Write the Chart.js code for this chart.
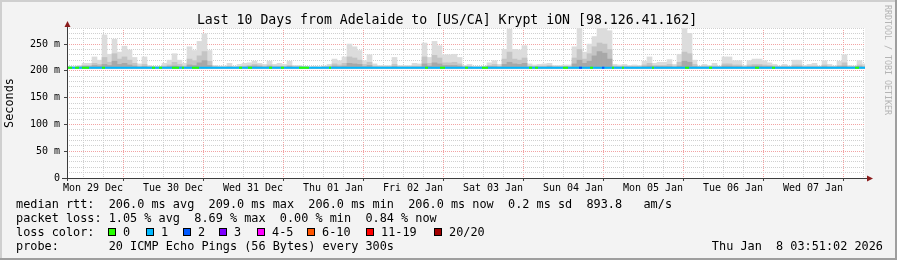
<!DOCTYPE html>
<html>
<head>
<meta charset="utf-8">
<script src="https://cdn.jsdelivr.net/npm/chart.js@4/dist/chart.umd.min.js"></script>
<style>
html, body { margin: 0; padding: 0; background: #f3f3f3; }
canvas { display: block; }
</style>
</head>
<body>
<canvas id="graficoPing" width="897" height="260"></canvas>
<script>
const titulo = 'Last 10 Days from Adelaide to [US/CA] Krypt iON [98.126.41.162]';
const dayLabels = ['Mon 29 Dec', 'Tue 30 Dec', 'Wed 31 Dec', 'Thu 01 Jan', 'Fri 02 Jan',
    'Sat 03 Jan', 'Sun 04 Jan', 'Mon 05 Jan', 'Tue 06 Jan', 'Wed 07 Jan'];
const yTickValues = [0, 50, 100, 150, 200, 250];
const yTickTexts = ['0', '50 m', '100 m', '150 m', '200 m', '250 m'];

// hours counted from Mon 29 Dec 00:00
const firstHour = 4.2;
const lastHour = 243.6;
const firstSlotHour = 4.95;
const slotStep = 1.5;

// smoke (ms), one value per 1.5 h slot
const smokeTop = [
    207, 207, 210, 214, 214, 226, 220, 267, 231, 259, 235, 246, 239, 225, 213, 226, 210, 208, 208, 214,
    220, 232, 220, 214, 245, 238, 255, 269, 238, 210, 209, 209, 214, 208, 212, 214, 215, 218, 214, 212,
    218, 212, 214, 212, 218, 210, 210, 208, 207, 208, 207, 209, 212, 222, 219, 226, 250, 245, 238, 219,
    230, 213, 210, 210, 210, 225, 210, 210, 210, 214, 213, 252, 225, 255, 247, 230, 230, 231, 225, 210,
    212, 208, 208, 208, 215, 219, 212, 240, 278, 240, 239, 247, 213, 211, 212, 213, 214, 210, 210, 211,
    211, 245, 279, 235, 250, 264, 279, 279, 275, 212, 211, 212, 210, 211, 210, 218, 226, 214, 216, 216,
    221, 212, 231, 279, 270, 220, 209, 212, 210, 214, 209, 226, 226, 219, 219, 210, 219, 222, 222, 219,
    215, 212, 209, 212, 209, 220, 220, 210, 212, 214, 209, 219, 212, 209, 218, 230, 210, 209, 219, 213
];
const smokeMid = [
    207, 207, 208, 210, 210, 214, 212, 225, 216, 232, 222, 226, 220, 214, 209, 212, 208, 207, 207, 209,
    211, 216, 212, 209, 222, 219, 228, 236, 218, 208, 207, 207, 209, 207, 208, 209, 210, 212, 211, 209,
    211, 209, 209, 208, 210, 208, 208, 207, 207, 207, 207, 208, 209, 213, 211, 214, 226, 224, 220, 212,
    216, 209, 208, 208, 208, 212, 208, 208, 208, 209, 209, 226, 214, 229, 224, 215, 215, 216, 213, 208,
    209, 207, 207, 207, 210, 212, 209, 222, 235, 222, 220, 224, 209, 208, 209, 209, 210, 208, 208, 208,
    208, 224, 240, 222, 232, 245, 252, 250, 240, 209, 208, 209, 208, 208, 208, 211, 214, 210, 210, 210,
    212, 209, 216, 235, 232, 212, 208, 209, 208, 209, 208, 213, 213, 211, 211, 208, 211, 212, 212, 211,
    210, 209, 208, 209, 208, 211, 211, 208, 209, 209, 208, 211, 209, 208, 210, 215, 208, 208, 211, 209
];
const smokeLow = [
    207, 207, 207, 208, 208, 210, 209, 212, 210, 218, 212, 214, 211, 209, 207, 208, 207, 207, 207, 207,
    208, 209, 208, 207, 211, 210, 215, 219, 210, 207, 207, 207, 207, 207, 207, 207, 208, 209, 208, 207,
    208, 207, 207, 207, 208, 207, 207, 207, 207, 207, 207, 207, 207, 209, 208, 209, 214, 213, 212, 208,
    210, 207, 207, 207, 207, 208, 207, 207, 207, 207, 207, 213, 209, 215, 213, 210, 210, 210, 209, 207,
    207, 207, 207, 207, 208, 208, 207, 212, 216, 213, 212, 214, 207, 207, 207, 207, 208, 207, 207, 207,
    207, 213, 220, 214, 218, 228, 236, 233, 222, 207, 207, 207, 207, 207, 207, 208, 209, 208, 208, 208,
    208, 207, 209, 218, 216, 208, 207, 207, 207, 207, 207, 209, 209, 208, 208, 207, 208, 209, 209, 208,
    208, 207, 207, 207, 207, 208, 208, 207, 207, 207, 207, 208, 207, 207, 208, 209, 207, 207, 208, 207
];
const smokeBase = 205;

// median rtt (ms) and loss spans [fromHour, toHour]
const medianLine = [[4.2, 206], [243.6, 206]];
const lossZeroSpans = [
    [4.2, 5.7], [6.6, 7.8], [8.7, 10.8], [14.7, 15.6], [29.7, 30.6], [31.8, 32.7], [35.7, 37.8],
    [38.7, 39.3], [41.7, 43.8], [55.8, 56.7], [58.5, 59.7], [64.8, 65.7], [68.4, 69.3], [73.8, 76.8],
    [82.8, 83.4], [111.6, 112.5], [116.1, 117.6], [123.6, 124.5], [128.7, 130.5], [142.8, 143.7],
    [144.6, 145.5], [153.0, 154.5], [161.1, 162.0], [167.7, 168.3], [170.7, 171.3], [179.7, 180.3],
    [189.6, 190.8], [196.8, 197.7], [210.6, 211.8], [215.7, 216.6], [240.6, 241.8]
];
const lossTwoSpans = [[157.8, 158.7], [164.7, 165.4]];

const medianStats = ['206.0', '209.0', '206.0', '206.0', '0.2', '893.8'];
const lossStats = ['1.05', '8.69', '0.00', '0.84'];
const lossLevels = ['0', '1', '2', '3', '4-5', '6-10', '11-19', '20/20'];
const lossColors = ['#26ff00', '#00b8ff', '#0059ff', '#7e00ff', '#ff00ff', '#ff5500', '#ff0000', '#a10000'];
const probeText = '20 ICMP Echo Pings (56 Bytes) every 300s';
const stampText = 'Thu Jan  8 03:51:02 2026';

const fonte = 'DejaVu Sans Mono';
const gridRed = '#f2a3a3';
const gridGray = '#d0d0d0';

function geraBarras(valores) {
    return valores.map((v, i) => ({ x: firstSlotHour + i * slotStep, y: [smokeBase, v] }));
}

function geraTrechos(spans) {
    const pts = [];
    spans.forEach(([a, b]) => {
        pts.push({ x: a, y: medianLine[0][1] }, { x: b, y: medianLine[0][1] }, { x: b, y: null });
    });
    return pts;
}

const gridHours = [];
for (let h = 6; h <= 240; h += 6) gridHours.push(h);

const moldura = {
    id: 'moldura',
    beforeDraw(chart) {
        const { ctx, chartArea: a } = chart;
        ctx.save();
        ctx.fillStyle = '#f3f3f3';
        ctx.fillRect(0, 0, chart.width, chart.height);
        ctx.fillStyle = '#ffffff';
        ctx.fillRect(a.left, a.top, a.right - a.left, a.bottom - a.top);
        ctx.restore();
    },
    afterDraw(chart) {
        const { ctx, chartArea: a } = chart;
        const L = Math.round(a.left), B = Math.round(a.bottom), R = Math.round(a.right);
        ctx.save();
        // axes
        ctx.strokeStyle = '#3c3c3c';
        ctx.lineWidth = 1;
        ctx.beginPath();
        ctx.moveTo(L - 5, B + 0.5); ctx.lineTo(R + 3, B + 0.5);
        ctx.moveTo(L + 0.5, B + 3); ctx.lineTo(L + 0.5, a.top - 2);
        ctx.stroke();
        ctx.fillStyle = '#8b1c1c';
        ctx.beginPath();
        ctx.moveTo(L + 0.5, a.top - 7); ctx.lineTo(L - 2.5, a.top - 1); ctx.lineTo(L + 3.5, a.top - 1);
        ctx.fill();
        ctx.beginPath();
        ctx.moveTo(R + 8, B + 0.5); ctx.lineTo(R + 2, B - 2.5); ctx.lineTo(R + 2, B + 3.5);
        ctx.fill();

        // title
        ctx.fillStyle = '#000';
        ctx.textBaseline = 'alphabetic';
        ctx.textAlign = 'center';
        ctx.font = '13.2px "' + fonte + '"';
        ctx.fillText(titulo, 447, 24);

        // legend block
        ctx.textAlign = 'left';
        ctx.font = '11.85px "' + fonte + '"';
        const x0 = 16;
        ctx.fillText('median rtt:  ' + medianStats[0] + ' ms avg  ' + medianStats[1] + ' ms max  ' +
            medianStats[2] + ' ms min  ' + medianStats[3] + ' ms now  ' + medianStats[4] + ' ms sd  ' +
            medianStats[5] + '   am/s', x0, 208);
        ctx.fillText('packet loss: ' + lossStats[0] + ' % avg  ' + lossStats[1] + ' % max  ' +
            lossStats[2] + ' % min  ' + lossStats[3] + ' % now', x0, 222);
        ctx.fillText('loss color:', x0, 236);
        const swatchX = [108, 146, 183, 219, 257, 307, 366, 434];
        lossLevels.forEach((lab, i) => {
            const sx = swatchX[i];
            ctx.fillStyle = '#000';
            ctx.fillRect(sx, 228, 8, 8);
            ctx.fillStyle = lossColors[i];
            ctx.fillRect(sx + 1, 229, 6, 6);
            ctx.fillStyle = '#000';
            ctx.fillText(lab, sx + 15, 236);
        });
        ctx.fillText('probe:       ' + probeText, x0, 250);
        ctx.textAlign = 'right';
        ctx.fillText(stampText, 883, 250);

        // watermark
        ctx.textAlign = 'left';
        ctx.font = '8.3px "' + fonte + '"';
        ctx.fillStyle = '#b4b4b4';
        ctx.translate(885, 5);
        ctx.rotate(Math.PI / 2);
        ctx.fillText('RRDTOOL / TOBI OETIKER', 0, 0);
        ctx.setTransform(1, 0, 0, 1, 0, 0);

        // frame
        ctx.fillStyle = '#cfcfcf';
        ctx.fillRect(0, 0, chart.width, 2);
        ctx.fillRect(0, 0, 2, chart.height);
        ctx.fillStyle = '#9e9e9e';
        ctx.fillRect(0, chart.height - 2, chart.width, 2);
        ctx.fillRect(chart.width - 2, 0, 2, chart.height);
        ctx.restore();
    }
};

const graficoPing = new Chart(document.getElementById('graficoPing'), {
    type: 'bar',
    data: {
        datasets: [
            {
                type: 'line', label: 'loss 2', data: geraTrechos(lossTwoSpans),
                borderColor: lossColors[2], borderWidth: 2, pointRadius: 0, order: 0
            },
            {
                type: 'line', label: 'loss 0', data: geraTrechos(lossZeroSpans),
                borderColor: lossColors[0], borderWidth: 2, pointRadius: 0, order: 1
            },
            {
                type: 'line', label: 'median rtt', data: medianLine.map(([x, y]) => ({ x, y })),
                borderColor: lossColors[1], borderWidth: 2, pointRadius: 0, order: 2
            },
            { label: 'smoke low', data: geraBarras(smokeLow), backgroundColor: '#a8a8a8', order: 3 },
            { label: 'smoke mid', data: geraBarras(smokeMid), backgroundColor: '#c4c4c4', order: 4 },
            { label: 'smoke top', data: geraBarras(smokeTop), backgroundColor: '#dcdcdc', order: 5 }
        ]
    },
    options: {
        responsive: false,
        animation: false,
        devicePixelRatio: 1,
        datasets: {
            bar: { grouped: false, barPercentage: 1, categoryPercentage: 1, borderWidth: 0 }
        },
        layout: { padding: { left: 3, right: 32, top: 28, bottom: 58 } },
        plugins: {
            legend: { display: false },
            tooltip: { enabled: false },
            title: { display: false }
        },
        scales: {
            x: {
                type: 'linear', min: firstHour, max: lastHour, offset: false,
                afterBuildTicks: (scale) => { scale.ticks = gridHours.map(v => ({ value: v })); },
                afterFit: (scale) => { scale.height = 24; },
                ticks: {
                    autoSkip: false, maxRotation: 0, padding: 1, color: '#000',
                    font: { family: fonte, size: 10 },
                    callback: (v) => (v % 24 === 12 ? dayLabels[(v - 12) / 24] : '')
                },
                grid: {
                    lineWidth: 1, tickLength: 3,
                    color: (c) => (c.tick && c.tick.value % 24 === 0 ? gridRed : gridGray),
                    tickColor: (c) => (c.tick && c.tick.value % 24 === 0 ? '#444' : 'rgba(0,0,0,0)')
                },
                border: { display: false, dash: [1, 1] }
            },
            y: {
                min: 0, max: 280,
                afterFit: (scale) => { scale.width = 64; },
                ticks: {
                    stepSize: 10, autoSkip: false, padding: 4, color: '#000',
                    font: { family: fonte, size: 10 },
                    callback: (v) => { const i = yTickValues.indexOf(v); return i >= 0 ? yTickTexts[i] : ''; }
                },
                grid: {
                    lineWidth: 1, tickLength: 3,
                    color: (c) => (c.tick && c.tick.value % 50 === 0 ? gridRed : gridGray),
                    tickColor: (c) => (c.tick && c.tick.value % 50 === 0 ? '#444' : 'rgba(0,0,0,0)')
                },
                border: { display: false, dash: [1, 1] },
                title: {
                    display: true, text: 'Seconds', color: '#000', padding: 0,
                    font: { family: fonte, size: 11.85 }
                }
            }
        }
    },
    plugins: [moldura]
});
</script>
</body>
</html>
